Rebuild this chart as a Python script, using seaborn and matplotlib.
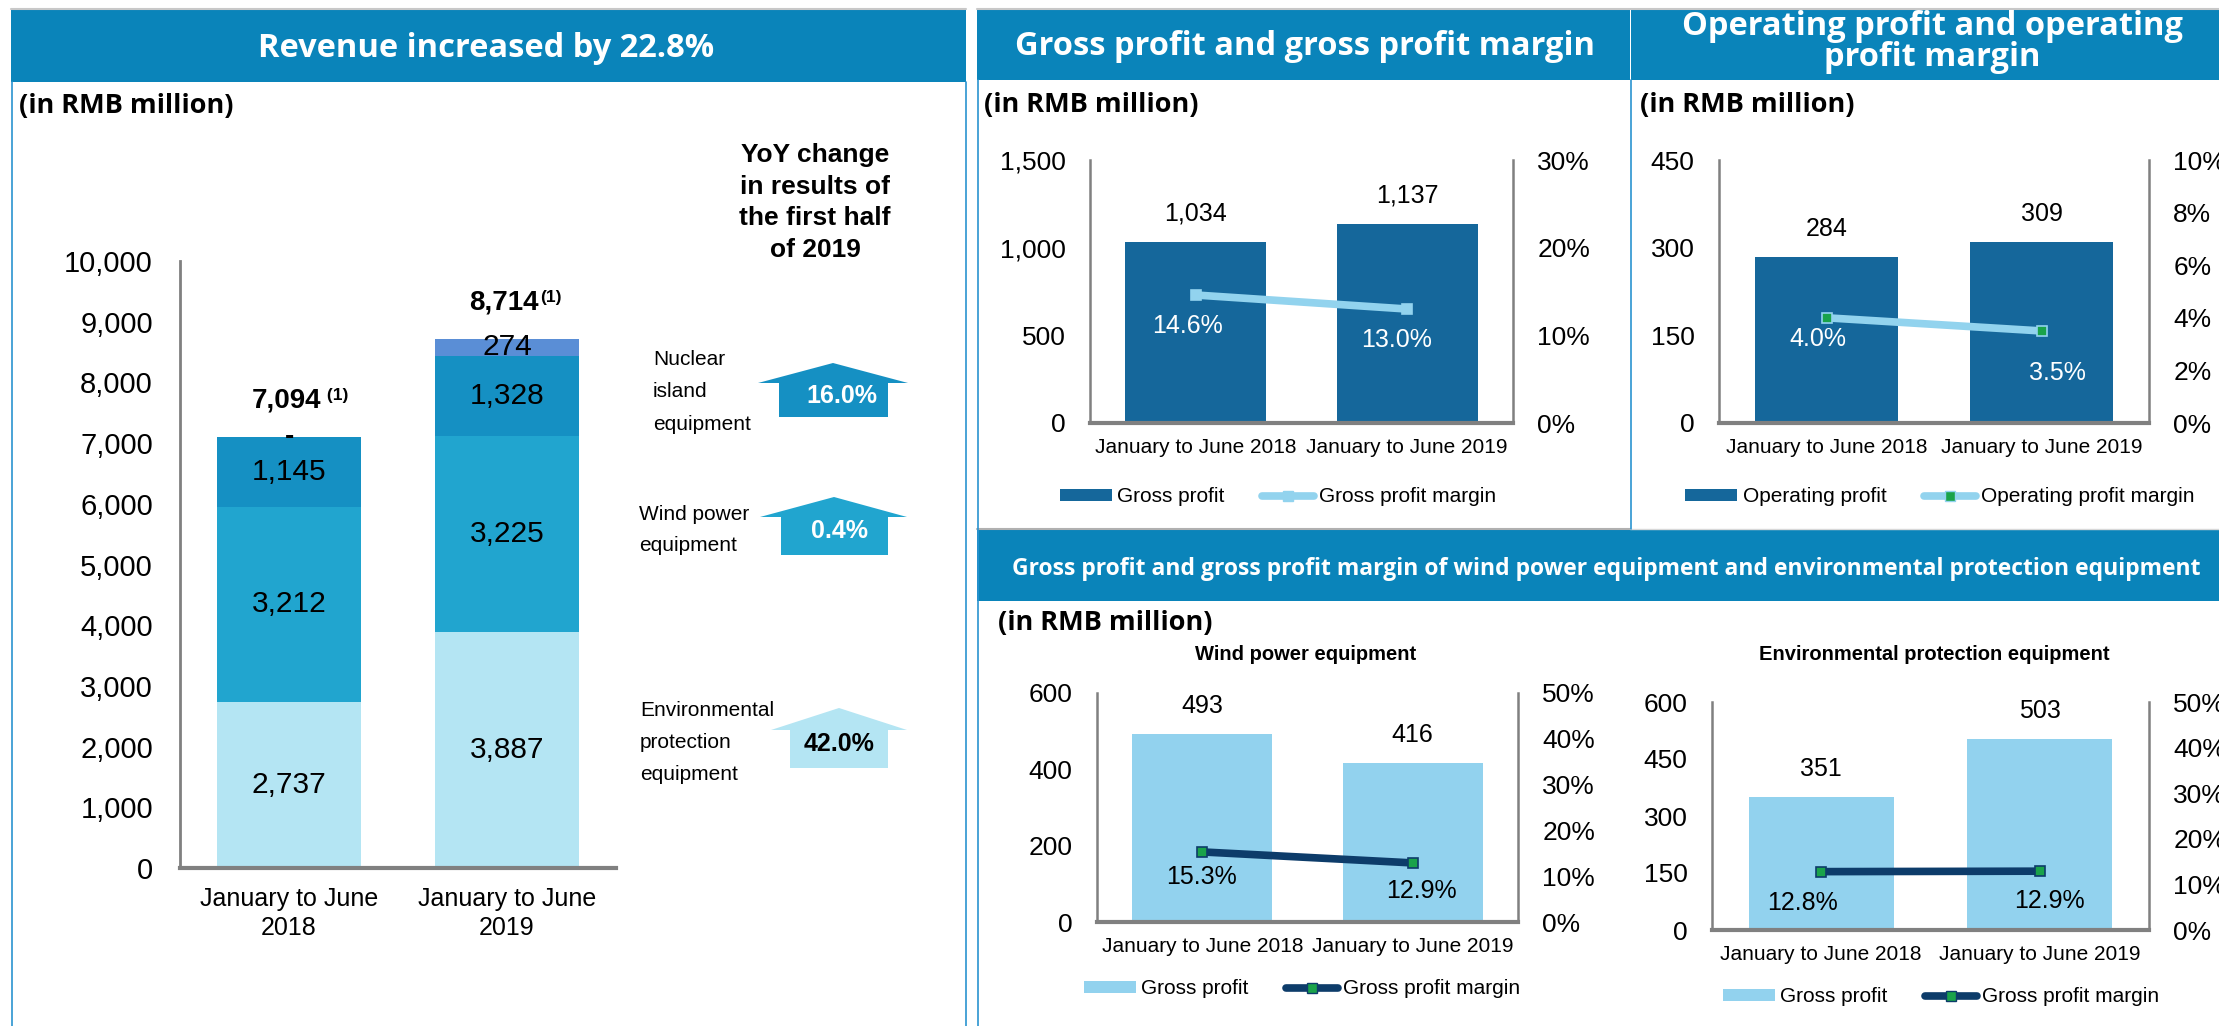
import numpy as np
import pandas as pd
import matplotlib
matplotlib.use("Agg")
import matplotlib.pyplot as plt
import seaborn as sns
from matplotlib.patches import Polygon, Rectangle, Patch
from matplotlib.lines import Line2D
from matplotlib.ticker import FuncFormatter

# ---------------- data ----------------
periods = ["January to June 2018", "January to June 2019"]
periods_two_line = ["January to June\n2018", "January to June\n2019"]

rev_env = [2737, 3887]        # environmental protection equipment
rev_wind = [3212, 3225]       # wind power equipment
rev_nuclear = [1145, 1328]    # nuclear island equipment
rev_other = [0, 274]          # other
rev_total = [7094, 8714]
other_labels = ["-", "274"]
total_notes = [" (1)", "(1)"]

gp_values = [1034, 1137]
gp_margin = [14.6, 13.0]
op_values = [284, 309]
op_margin = [4.0, 3.5]
wind_gp = [493, 416]
wind_margin = [15.3, 12.9]
env_gp = [351, 503]
env_margin = [12.8, 12.9]

yoy_names = [["Nuclear", "island", "equipment"],
             ["Wind power", "equipment"],
             ["Environmental", "protection", "equipment"]]
yoy_values = ["16.0%", "0.4%", "42.0%"]

# ---------------- style ----------------
sns.set_theme(style="white")
plt.rcParams['font.family'] = ['Liberation Sans', 'DejaVu Sans']
plt.rcParams['text.color'] = 'black'
plt.rcParams['xtick.color'] = 'black'
plt.rcParams['ytick.color'] = 'black'
HEAD_FONT = ['Open Sans', 'Liberation Sans', 'DejaVu Sans']

HEADER_BLUE = '#0a84ba'
BORDER_BLUE = '#2a93d0'
SPINE = '#808080'
C_ENV = '#b4e5f3'
C_WIND = '#21a5cf'
C_NUC = '#1590c3'
C_OTHER = '#5a8ed6'
C_GP = '#15679b'
C_LINE_LIGHT = '#92d3ee'
C_BAR_LIGHT = '#92d2ee'
C_NAVY = '#0d3c6a'
C_GREEN = '#1aa34a'

W, H = 2219, 1026
fig = plt.figure(figsize=(W / 100, H / 100), dpi=100)
fig.patch.set_facecolor('white')


def add_ax(x0, y0, x1, y1):
    return fig.add_axes([x0 / W, 1 - y1 / H, (x1 - x0) / W, (y1 - y0) / H])


def ftext(x, y, s, **kw):
    return fig.text(x / W, 1 - y / H, s, **kw)


def frect(x0, y0, x1, y1, color, z=0):
    fig.patches.append(Rectangle((x0 / W, 1 - y1 / H), (x1 - x0) / W, (y1 - y0) / H,
                                 transform=fig.transFigure, facecolor=color,
                                 edgecolor='none', zorder=z))


def fline(x0, y0, x1, y1, color, lw):
    fig.add_artist(Line2D([x0 / W, x1 / W], [1 - y0 / H, 1 - y1 / H],
                          transform=fig.transFigure, color=color, lw=lw, zorder=1))


# ---------------- panel frames & headers ----------------
frect(11, 10, 966, 82, HEADER_BLUE)
frect(977, 10, 1630, 80, HEADER_BLUE)
frect(1631, 10, 2219, 80, HEADER_BLUE)
frect(977, 530, 2219, 601, HEADER_BLUE)
fline(11, 9, 966, 9, '#c8c8c8', 1.5)
fline(977, 9, 2219, 9, '#c8c8c8', 1.5)
fline(977, 529, 1630, 529, '#b0b0b0', 1.5)
fline(1630, 529, 2219, 529, '#d8d8d8', 1.0)
fline(11.5, 82, 11.5, 1026, BORDER_BLUE, 1.2)
fline(965.5, 82, 965.5, 1026, BORDER_BLUE, 1.2)
fline(977.5, 80, 977.5, 1026, BORDER_BLUE, 1.2)
fline(1630.5, 80, 1630.5, 529, BORDER_BLUE, 1.2)

ftext(486, 57, "Revenue increased by 22.8%", color='white', fontsize=23.5,
      fontweight='bold', family=HEAD_FONT, ha='center', va='baseline')
ftext(1305, 55, "Gross profit and gross profit margin", color='white', fontsize=23.5,
      fontweight='bold', family=HEAD_FONT, ha='center', va='baseline')
ftext(1932, 35, "Operating profit and operating", color='white', fontsize=23.5,
      fontweight='bold', family=HEAD_FONT, ha='center', va='baseline')
ftext(1932, 66, "profit margin", color='white', fontsize=23.5,
      fontweight='bold', family=HEAD_FONT, ha='center', va='baseline')
ftext(1606, 575, "Gross profit and gross profit margin of wind power equipment and "
      "environmental protection equipment", color='white', fontsize=16.5,
      fontweight='bold', family=HEAD_FONT, ha='center', va='baseline')

for (ux, uy) in [(19, 113), (984, 112), (1640, 112), (998, 630)]:
    ftext(ux, uy, "(in RMB million)", fontsize=19.5, fontweight='bold',
          family=HEAD_FONT, ha='left', va='baseline')

# ---------------- left: stacked revenue ----------------
axL = add_ax(180, 261, 616, 868)
# bottom-up cumulative values
stack_order = [rev_env, rev_wind, rev_nuclear, rev_other]
cum = np.cumsum(np.array(stack_order), axis=0)
cum_cols = {"env": cum[0], "wind": cum[1], "nuc": cum[2], "other": cum[3]}
dfL = pd.DataFrame({"period": periods, **cum_cols})
for col, color in [("other", C_OTHER), ("nuc", C_NUC), ("wind", C_WIND), ("env", C_ENV)]:
    sns.barplot(data=dfL, x="period", y=col, color=color, saturation=1, width=0.665,
                linewidth=0, errorbar=None, ax=axL)
axL.set_xlim(-0.5, 1.5)
axL.set_ylim(0, 10000)
axL.set_yticks(range(0, 10001, 1000))
axL.yaxis.set_major_formatter(FuncFormatter(lambda v, p: f"{v:,.0f}"))
axL.tick_params(axis='y', length=0, pad=19.5, labelsize=21)
axL.set_xticks([0, 1])
axL.set_xticklabels(periods_two_line, fontsize=18, linespacing=1.25)
axL.tick_params(axis='x', length=0, pad=14)
axL.set_xlabel("")
axL.set_ylabel("")
axL.patch.set_alpha(0)
for s in ['top', 'right']:
    axL.spines[s].set_visible(False)
axL.spines['left'].set_color(SPINE)
axL.spines['left'].set_linewidth(2)
axL.spines['bottom'].set_color(SPINE)
axL.spines['bottom'].set_linewidth(3)

seg_values = [rev_env, rev_wind, rev_nuclear]
for i in range(2):
    bottom = 0
    for vals in seg_values:
        v = vals[i]
        axL.text(i, bottom + v / 2, f"{v:,}", ha='center', va='center', fontsize=21.5)
        bottom += v
    if rev_other[i] > 0:
        axL.text(i, bottom + rev_other[i] / 2, other_labels[i], ha='center', va='center',
                 fontsize=21.5)
    else:
        axL.text(i, bottom, other_labels[i], ha='center', va='center', fontsize=20,
                 fontweight='bold')
    axL.annotate(f"{rev_total[i]:,}", (i, rev_total[i]), xytext=(32, 30),
                 textcoords='offset pixels', ha='right', va='baseline', fontsize=20,
                 fontweight='bold')
    axL.annotate(total_notes[i], (i, rev_total[i]), xytext=(33, 37),
                 textcoords='offset pixels', ha='left', va='baseline', fontsize=12.5,
                 fontweight='bold')

# YoY block
for k, line in enumerate(["YoY change", "in results of", "the first half", "of 2019"]):
    ftext(815, 162 + k * 31.7, line, fontsize=19, fontweight='bold', ha='center',
          va='baseline')

arrows = [
    dict(tip=(833, 363), wl=758, wr=908, wy=383, sl=779, sr=888, bot=417, color=C_NUC,
         tc='white', txt=(842, 396), lx=653, lys=[365, 397, 430]),
    dict(tip=(834, 497), wl=760, wr=907, wy=517, sl=781, sr=888, bot=555, color=C_WIND,
         tc='white', txt=(839, 531), lx=639, lys=[520, 551]),
    dict(tip=(839, 708), wl=771, wr=907, wy=730, sl=790, sr=888, bot=768, color=C_ENV,
         tc='black', txt=(839, 744), lx=640, lys=[716, 748, 780]),
]
for a, names, val in zip(arrows, yoy_names, yoy_values):
    tx, ty = a['tip']
    pts = [(tx, ty), (a['wr'], a['wy']), (a['sr'], a['wy']), (a['sr'], a['bot']),
           (a['sl'], a['bot']), (a['sl'], a['wy']), (a['wl'], a['wy'])]
    pts = [(x / W, 1 - y / H) for x, y in pts]
    fig.patches.append(Polygon(pts, closed=True, transform=fig.transFigure,
                               facecolor=a['color'], edgecolor='none', zorder=2))
    ftext(a['txt'][0], a['txt'][1], val, color=a['tc'], fontsize=18, fontweight='bold',
          ha='center', va='center', zorder=3)
    for nm, ly in zip(names, a['lys']):
        ftext(a['lx'], ly, nm, fontsize=15, ha='left', va='baseline')


# ---------------- right: bar + line combos ----------------
def combo(box, values, margins, ymax, yticks, pmax, pticks, bar_color, line_color,
          marker_face, marker_edge, pct_color, pct_offsets, legend_center, labels,
          title=None):
    ax = add_ax(*box)
    sns.barplot(x=periods, y=values, color=bar_color, saturation=1, width=0.665,
                linewidth=0, errorbar=None, ax=ax)
    ax.set_ylim(0, ymax)
    ax.set_yticks(yticks)
    ax.yaxis.set_major_formatter(FuncFormatter(lambda v, p: f"{v:,.0f}"))
    ax.tick_params(axis='y', length=0, pad=17.5, labelsize=19)
    ax.tick_params(axis='x', length=0, pad=11, labelsize=15)
    ax.set_xlabel("")
    ax.set_ylabel("")
    ax.patch.set_alpha(0)
    ax2 = ax.twinx()
    sns.lineplot(x=[0, 1], y=margins, ax=ax2, color=line_color, lw=5.5, marker='s',
                 markersize=7, markerfacecolor=marker_face, markeredgecolor=marker_edge,
                 markeredgewidth=1.2)
    ax.set_xlim(-0.5, 1.5)
    ax2.set_xlim(-0.5, 1.5)
    ax2.set_ylim(0, pmax)
    ax2.set_yticks(pticks)
    ax2.yaxis.set_major_formatter(FuncFormatter(lambda v, p: f"{v:.0f}%"))
    ax2.tick_params(axis='y', length=0, pad=17.5, labelsize=19)
    ax2.set_ylabel("")
    ax2.grid(False)
    ax.grid(False)
    for s in ['top', 'right']:
        ax.spines[s].set_visible(False)
    for s in ['top', 'left', 'bottom']:
        ax2.spines[s].set_visible(False)
    for sp, lw in [(ax.spines['left'], 1.8), (ax.spines['bottom'], 3), (ax2.spines['right'], 1.8)]:
        sp.set_color(SPINE)
        sp.set_linewidth(lw)
    for i, v in enumerate(values):
        ax.annotate(f"{v:,}", (i, v), xytext=(0, 28), textcoords='offset pixels',
                    ha='center', va='center', fontsize=18)
    for i, m in enumerate(margins):
        dx, dy = pct_offsets[i]
        ax2.annotate(f"{m:.1f}%", (i, m), xytext=(dx, dy), textcoords='offset pixels',
                     ha='center', va='center', fontsize=18, color=pct_color)
    handles = [Patch(facecolor=bar_color, edgecolor='none'),
               Line2D([], [], color=line_color, lw=5.5, marker='s', markersize=7,
                      markerfacecolor=marker_face, markeredgecolor=marker_edge)]
    cx, cy = legend_center
    fig.legend(handles, labels, loc='center', bbox_to_anchor=(cx / W, 1 - cy / H),
               bbox_transform=fig.transFigure, ncol=2, frameon=False, fontsize=15,
               handlelength=2.5, handleheight=0.55, handletextpad=0.25,
               columnspacing=1.8)
    if title is not None:
        ftext(title[1], title[2], title[0], fontsize=14.5, fontweight='bold',
              ha='center', va='center')
    return ax, ax2


combo((1090, 160, 1513, 423), gp_values, gp_margin, 1500, [0, 500, 1000, 1500], 30,
      [0, 10, 20, 30], C_GP, C_LINE_LIGHT, C_LINE_LIGHT, C_LINE_LIGHT, 'white',
      [(-8, -31), (-11, -31)], (1278, 497), ["Gross profit", "Gross profit margin"])

combo((1719, 160, 2149, 423), op_values, op_margin, 450, [0, 150, 300, 450], 10,
      [0, 2, 4, 6, 8, 10], C_GP, C_LINE_LIGHT, C_GREEN, C_LINE_LIGHT, 'white',
      [(-9, -21), (16, -42)], (1940, 497),
      ["Operating profit", "Operating profit margin"])

combo((1097, 693, 1518, 922), wind_gp, wind_margin, 600, [0, 200, 400, 600], 50,
      [0, 10, 20, 30, 40, 50], C_BAR_LIGHT, C_NAVY, C_GREEN, C_NAVY, 'black',
      [(-1, -25), (9, -28)], (1302, 989), ["Gross profit", "Gross profit margin"],
      title=("Wind power equipment", 1306, 655))

combo((1712, 702, 2149, 930), env_gp, env_margin, 600, [0, 150, 300, 450, 600], 50,
      [0, 10, 20, 30, 40, 50], C_BAR_LIGHT, C_NAVY, C_GREEN, C_NAVY, 'black',
      [(-19, -31), (10, -30)], (1941, 997), ["Gross profit", "Gross profit margin"],
      title=("Environmental protection equipment", 1934, 655))

fig.savefig("out.png", dpi=100, facecolor='white')
